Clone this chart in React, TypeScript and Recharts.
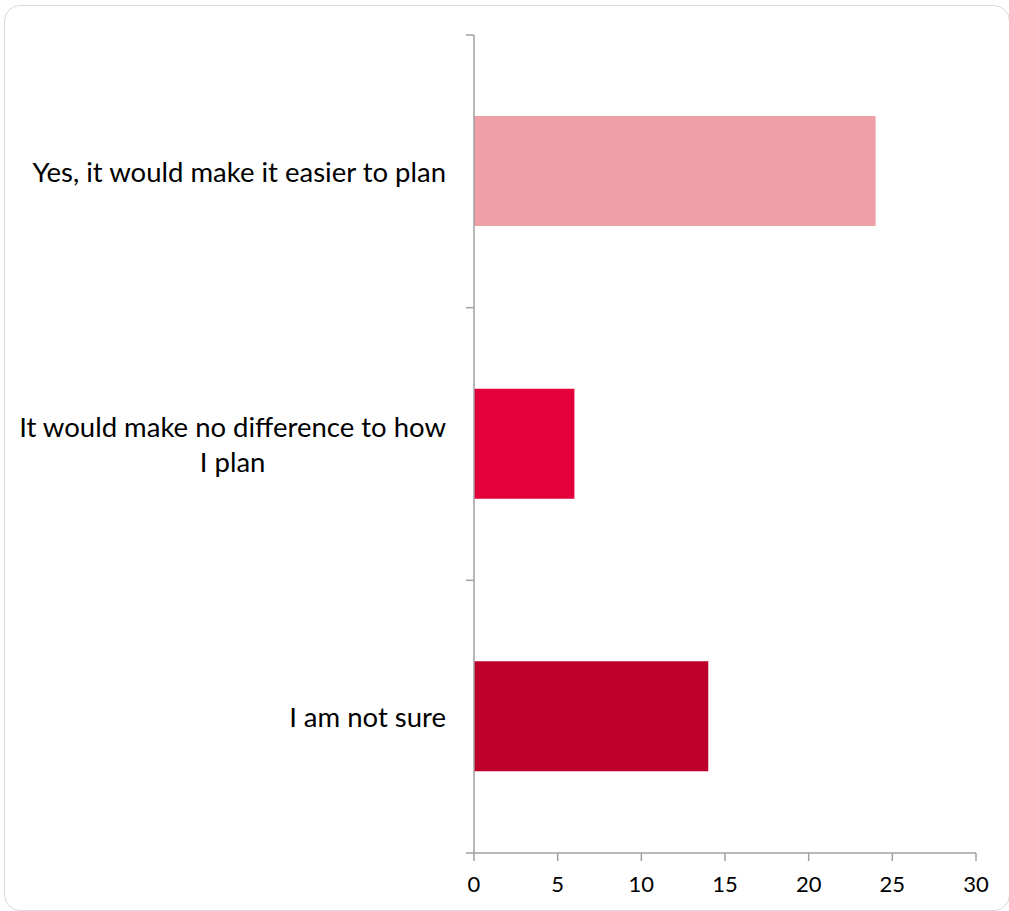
import React from "react";
import { BarChart, Bar, XAxis, YAxis, Cell } from "recharts";

const categories = [
  "Yes, it would make it easier to plan",
  "It would make no difference to how I plan",
  "I am not sure",
];
const values = [24, 6, 14];
const barColors = ["#EFA0A6", "#E4003A", "#BC0029"];
const tickLabelLines = [
  ["Yes, it would make it easier to plan"],
  ["It would make no difference to how", "I plan"],
  ["I am not sure"],
];
const xTicks = [0, 5, 10, 15, 20, 25, 30];

const data = categories.map((c, i) => ({ name: c, value: values[i] }));

const FONT = "Lato, 'Open Sans', sans-serif";
const AXIS_COLOR = "#A0A0A0";
const Y_TICK_MARGIN = 28;
const Y_TICK_LEN = 8;

const CategoryTick = (props: any) => {
  const { x, y, index, payload, visibleTicksCount } = props;
  const lines = tickLabelLines[index] || [payload.value];
  const w = 460;
  const h = 120;
  const axisX = x + Y_TICK_MARGIN;
  const half = payload && typeof payload.offset === "number" ? payload.offset : 0;
  const count = visibleTicksCount || categories.length;
  return (
    <g>
      <line
        x1={axisX - Y_TICK_LEN}
        x2={axisX}
        y1={y - half}
        y2={y - half}
        stroke={AXIS_COLOR}
        strokeWidth={1.5}
      />
      {index === count - 1 && (
        <line
          x1={axisX - Y_TICK_LEN}
          x2={axisX}
          y1={y + half}
          y2={y + half}
          stroke={AXIS_COLOR}
          strokeWidth={1.5}
        />
      )}
      <foreignObject x={x - w} y={y - h / 2} width={w} height={h}>
        <div
          style={{
            width: "100%",
            height: "100%",
            display: "flex",
            justifyContent: "flex-end",
            alignItems: "center",
          }}
        >
          <div
            style={{
              textAlign: "center",
              fontFamily: FONT,
              fontSize: 27.5,
              lineHeight: "35px",
              color: "#000",
              whiteSpace: "nowrap",
            }}
          >
            {lines.map((l, i) => (
              <div key={i}>{l}</div>
            ))}
          </div>
        </div>
      </foreignObject>
    </g>
  );
};

export default function App() {
  return (
    <div style={{ position: "absolute", left: 0, top: 0, width: 1009, height: 911, background: "#fff" }}>
      <div
        style={{
          position: "absolute",
          left: 4,
          top: 5,
          width: 1006,
          height: 906,
          border: "1.5px solid #D9D9D9",
          borderRadius: 16,
          boxSizing: "border-box",
        }}
      />
      <div style={{ position: "absolute", left: 0, top: 0 }}>
        <BarChart
          width={1009}
          height={911}
          data={data}
          layout="vertical"
          margin={{ top: 35, right: 33, bottom: 0, left: 0 }}
        >
          <YAxis
            type="category"
            dataKey="name"
            width={474}
            axisLine={{ stroke: AXIS_COLOR, strokeWidth: 1.5 }}
            tickLine={false}
            tickSize={0}
            tickMargin={Y_TICK_MARGIN}
            interval={0}
            tick={<CategoryTick />}
          />
          <XAxis
            type="number"
            domain={[0, 30]}
            ticks={xTicks}
            height={58}
            tickSize={8}
            tickMargin={15}
            stroke={AXIS_COLOR}
            axisLine={{ stroke: AXIS_COLOR, strokeWidth: 1.5 }}
            tickLine={{ stroke: AXIS_COLOR, strokeWidth: 1.5 }}
            tick={{ fill: "#000", fontSize: 22, fontFamily: FONT }}
          />
          <Bar dataKey="value" barSize={110} isAnimationActive={false}>
            {data.map((d, i) => (
              <Cell key={i} fill={barColors[i]} />
            ))}
          </Bar>
        </BarChart>
      </div>
    </div>
  );
}
